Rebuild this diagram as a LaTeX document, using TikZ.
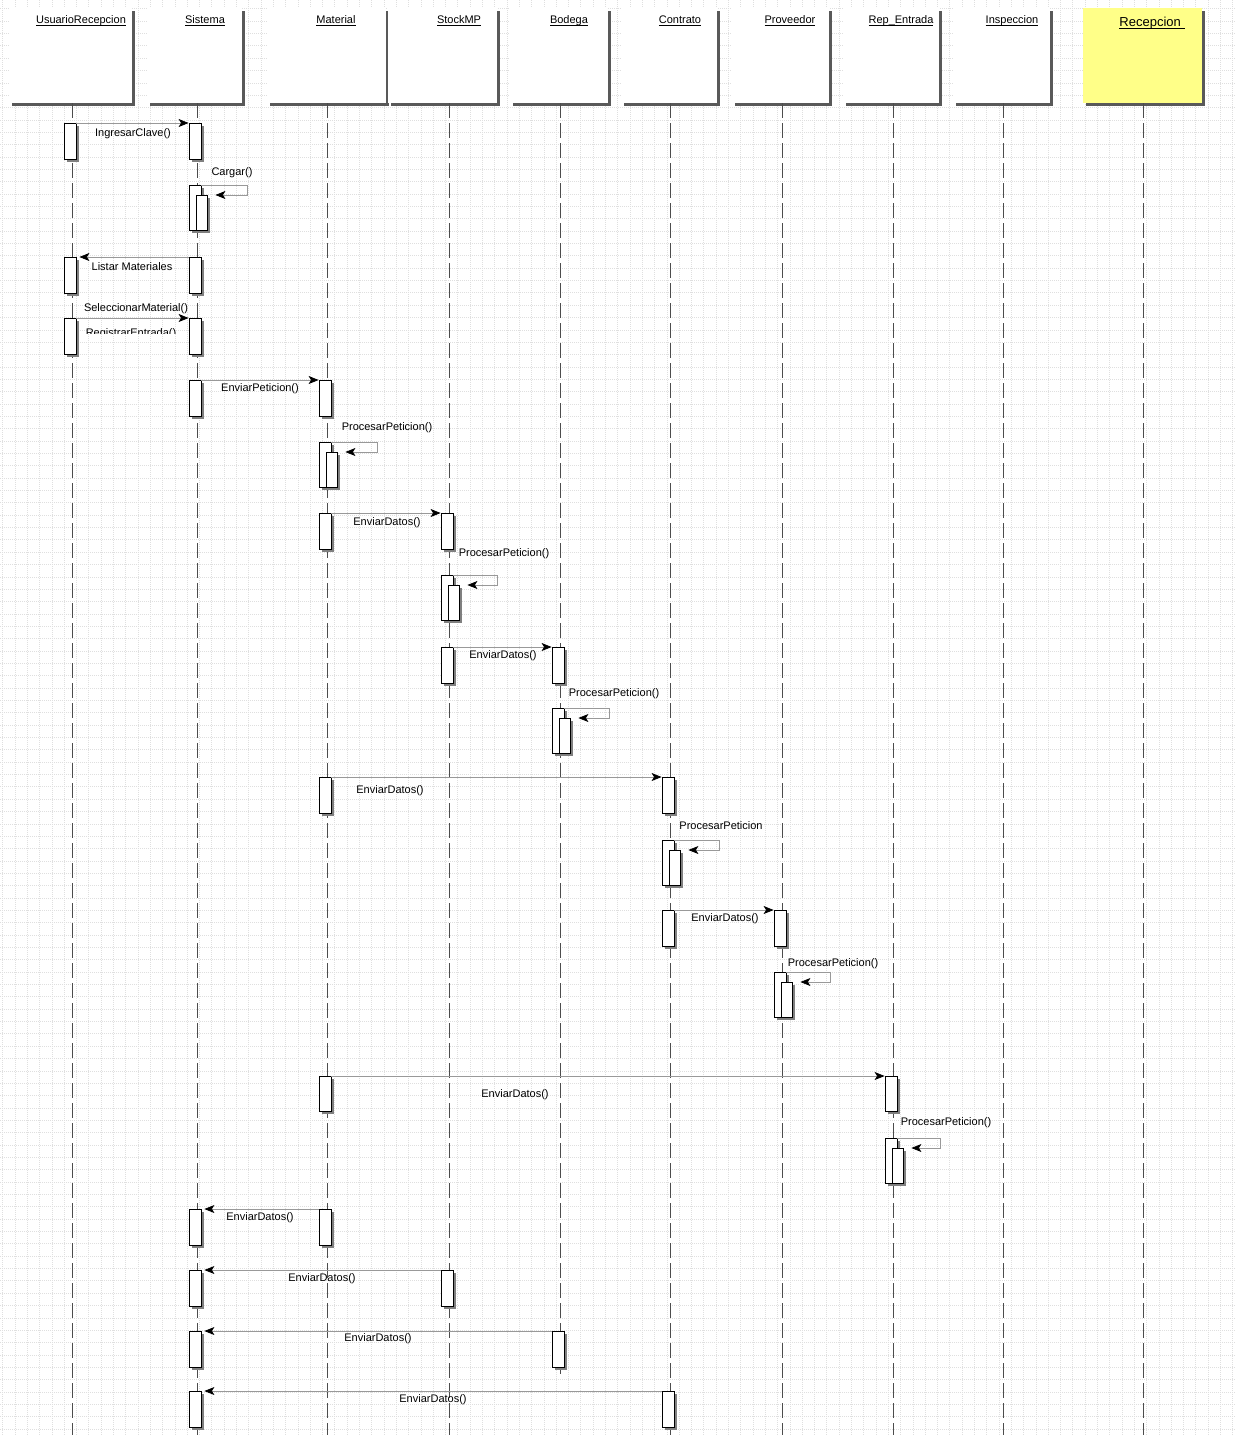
\documentclass[tikz,border=0pt]{standalone}
\usepackage{fontspec}
\setmainfont{Liberation Sans}
\usetikzlibrary{arrows.meta,shadows}

\newcommand{\subr}[1]{\underline{\smash{#1}\rule[-1pt]{0pt}{1pt}}}

\begin{document}
\begin{tikzpicture}[x=1pt,y=-1pt,font=\fontsize{11}{13}\selectfont,
  gridline/.style={draw=gray!25,line width=0.8pt,dash pattern=on 1pt off 1pt},
  head/.style={fill=white,minimum height=95pt,anchor=north west,inner sep=0pt,
    general shadow={fill=black!65,shadow xshift=3pt,shadow yshift=-3pt}},
  titulo/.style={anchor=base,inner sep=0pt},
  life/.style={draw=black!70,line width=1pt,dash pattern=on 15pt off 5pt},
  bar/.style={draw=black,fill=white,line width=0.8pt,minimum width=12pt,
    minimum height=36pt,inner sep=0pt,anchor=north,
    general shadow={fill=black!50,shadow xshift=2.5pt,shadow yshift=-2.5pt}},
  outer/.style={bar,minimum height=45pt},
  nest/.style={bar,minimum width=11pt,minimum height=35pt},
  msg/.style={draw=black!40,line width=0.8pt,
    -{Stealth[length=10pt,width=8pt,inset=2.5pt,color=black]}},
  lbl/.style={anchor=base,inner sep=0pt}]
\useasboundingbox (0,0) rectangle (1235,1435);
\fill[white] (0,0) rectangle (1235,1435);
% background grid
\foreach \gx in {0,...,100}
  \draw[gridline] (2.7+12.3*\gx,0) -- (2.7+12.3*\gx,1435);
\foreach \gy in {0,...,115}
  \draw[gridline] (0,8.8+12.35*\gy) -- (1235,8.8+12.35*\gy);

% object boxes
\node[head,minimum width=123pt] (hU) at (9,8)    {};
\node[head,minimum width=95pt]  (hS) at (147,8)  {};
\node[head,minimum width=119pt] (hM) at (267,8)  {};
\node[head,minimum width=109pt] (hK) at (388,8)  {};
\node[head,minimum width=98pt]  (hB) at (510,8)  {};
\node[head,minimum width=96pt]  (hC) at (621,8)  {};
\node[head,minimum width=97pt]  (hP) at (732,8)  {};
\node[head,minimum width=96pt]  (hR) at (843,8)  {};
\node[head,minimum width=97pt]  (hI) at (953,8)  {};
\node[head,minimum width=119pt,fill={rgb,255:red,255;green,255;blue,136}]
  (hE) at (1083,8) {};
% titles
\node[titulo] (tU) at (81,23)  {\subr{UsuarioRecepcion}};
\node[titulo] (tS) at (205,23) {\subr{Sistema}};
\node[titulo] (tM) at (336,23) {\subr{Material}};
\node[titulo] (tK) at (459,23) {\subr{StockMP}};
\node[titulo] (tB) at (569,23) {\subr{Bodega}};
\node[titulo] (tC) at (680,23) {\subr{Contrato}};
\node[titulo] (tP) at (790,23) {\subr{Proveedor}};
\node[titulo] (tR) at (901,23) {\subr{Rep\_Entrada}};
\node[titulo] (tI) at (1012,23) {\subr{Inspeccion}};
\node[titulo,font=\fontsize{13}{15}\selectfont] (tE) at (1152,26)
  {\subr{Recepcion\ }};

% lifelines
\coordinate (eU) at (72,1435);
\coordinate (eS) at (197,1435);
\coordinate (eM) at (327,1435);
\coordinate (eK) at (449,1435);
\coordinate (eB) at (560,1374);
\coordinate (eC) at (670,1435);
\coordinate (eP) at (782,1435);
\coordinate (eR) at (893,1435);
\coordinate (eI) at (1003,1435);
\coordinate (eE) at (1143,1435);
\draw[life] (eU |- hU.south) -- (eU);
\draw[life] (eS |- hS.south) -- (eS);
\draw[life] (eM |- hM.south) -- (eM);
\draw[life] (eK |- hK.south) -- (eK);
\draw[life] (eB |- hB.south) -- (eB);
\draw[life] (eC |- hC.south) -- (eC);
\draw[life] (eP |- hP.south) -- (eP);
\draw[life] (eR |- hR.south) -- (eR);
\draw[life] (eI |- hI.south) -- (eI);
\draw[life] (eE |- hE.south) -- (eE);

% activations
\node[bar] (u1) at (70,123) {};
\node[bar] (s1) at (195,123) {};
\node[outer] (s2) at (195,185) {};
\node[nest] (s2n) at (202,195) {};
\node[bar] (u2) at (70,257) {};
\node[bar] (s3) at (195,257) {};
\node[bar] (u3) at (70,318) {};
\node[bar] (s4) at (195,318) {};
\node[bar] (s5) at (195,380) {};
\node[bar] (m1) at (325,380) {};
\node[outer] (m2) at (325,442) {};
\node[nest] (m2n) at (332,452) {};
\node[bar] (m3) at (325,513) {};
\node[bar] (k1) at (447,513) {};
\node[outer] (k2) at (447,575) {};
\node[nest] (k2n) at (454,585) {};
\node[bar] (k3) at (447,647) {};
\node[bar] (b1) at (558,647) {};
\node[outer] (b2) at (558,708) {};
\node[nest] (b2n) at (565,718) {};
\node[bar] (m4) at (325,777) {};
\node[bar] (c1) at (668,777) {};
\node[outer] (c2) at (668,840) {};
\node[nest] (c2n) at (675,850) {};
\node[bar] (c3) at (668,910) {};
\node[bar] (p1) at (780,910) {};
\node[outer] (p2) at (780,972) {};
\node[nest] (p2n) at (787,982) {};
\node[bar,minimum height=35pt] (m5) at (325,1076) {};
\node[bar,minimum height=35pt] (r1) at (891,1076) {};
\node[outer] (r2) at (891,1138) {};
\node[nest] (r2n) at (898,1148) {};
\node[bar] (s6) at (195,1209) {};
\node[bar] (m6) at (325,1209) {};
\node[bar] (s7) at (195,1270) {};
\node[bar] (k4) at (447,1270) {};
\node[bar] (s8) at (195,1331) {};
\node[bar] (b3) at (558,1331) {};
\node[bar] (s9) at (195,1391) {};
\node[bar] (c4) at (668,1391) {};

% messages
\draw[msg] (u1.north east) -- (s1.north west);
\draw[msg,shorten >=7.5pt] (s2.north east) -- ++(46,0) |- (s2n.north east);
\draw[msg,shorten >=3pt] (s3.north west) -- (u2.north east);
\draw[msg] (u3.north east) -- (s4.north west);
\draw[msg] (s5.north east) -- (m1.north west);
\draw[msg,shorten >=7.5pt] (m2.north east) -- ++(46,0) |- (m2n.north east);
\draw[msg] (m3.north east) -- (k1.north west);
\draw[msg,shorten >=7.5pt] (k2.north east) -- ++(44,0) |- (k2n.north east);
\draw[msg] (k3.north east) -- (b1.north west);
\draw[msg,shorten >=7.5pt] (b2.north east) -- ++(45,0) |- (b2n.north east);
\draw[msg] (m4.north east) -- (c1.north west);
\draw[msg,shorten >=7.5pt] (c2.north east) -- ++(45,0) |- (c2n.north east);
\draw[msg] (c3.north east) -- (p1.north west);
\draw[msg,shorten >=7.5pt] (p2.north east) -- ++(44,0) |- (p2n.north east);
\draw[msg] (m5.north east) -- (r1.north west);
\draw[msg,shorten >=7.5pt] (r2.north east) -- ++(43,0) |- (r2n.north east);
\draw[msg,shorten >=3pt] (m6.north west) -- (s6.north east);
\draw[msg,shorten >=3pt] (k4.north west) -- (s7.north east);
\draw[msg,shorten >=3pt] (b3.north west) -- (s8.north east);
\draw[msg,shorten >=3pt] (c4.north west) -- (s9.north east);

% message labels
\node[lbl] (l1)  at (133,136)  {IngresarClave()};
\node[lbl] (l2)  at (232,175)  {Cargar()};
\node[lbl] (l3)  at (132,270)  {Listar Materiales};
\node[lbl] (l4)  at (136,311)  {SeleccionarMaterial()};
\begin{scope}
  \clip (80,318) rectangle (190,333);
  \node[lbl] (l5) at (131,336) {RegistrarEntrada()};
\end{scope}
\node[lbl] (l6)  at (260,391)  {EnviarPeticion()};
\node[lbl] (l7)  at (387,430)  {ProcesarPeticion()};
\node[lbl] (l8)  at (387,525)  {EnviarDatos()};
\node[lbl] (l9)  at (504,556)  {ProcesarPeticion()};
\node[lbl] (l10) at (503,658)  {EnviarDatos()};
\node[lbl] (l11) at (614,696)  {ProcesarPeticion()};
\node[lbl] (l12) at (390,793)  {EnviarDatos()};
\node[lbl] (l13) at (721,829)  {ProcesarPeticion};
\node[lbl] (l14) at (725,921)  {EnviarDatos()};
\node[lbl] (l15) at (833,966)  {ProcesarPeticion()};
\node[lbl] (l16) at (515,1097) {EnviarDatos()};
\node[lbl] (l17) at (946,1125) {ProcesarPeticion()};
\node[lbl] (l18) at (260,1220) {EnviarDatos()};
\node[lbl] (l19) at (322,1281) {EnviarDatos()};
\node[lbl] (l20) at (378,1341) {EnviarDatos()};
\node[lbl] (l21) at (433,1402) {EnviarDatos()};
\end{tikzpicture}
\end{document}
